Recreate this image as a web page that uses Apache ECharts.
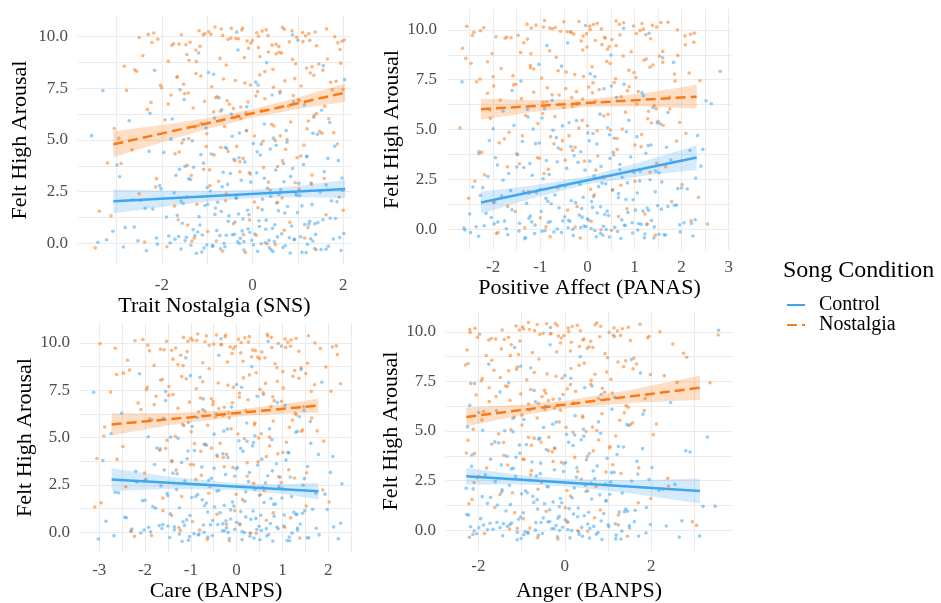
<!DOCTYPE html>
<html><head><meta charset="utf-8">
<script src="https://cdn.jsdelivr.net/npm/echarts@6/dist/echarts.min.js"></script>
<style>html,body{margin:0;padding:0;background:#fff}#c{width:941px;height:603px}</style>
</head><body><div id="c"></div>
<script>
// ---------- DATA ----------
const yTitle = 'Felt High Arousal';
const xTitles = ['Trait Nostalgia (SNS)', 'Positive Affect (PANAS)', 'Care (BANPS)', 'Anger (BANPS)'];
const groups = ['Control', 'Nostalgia'];
const legendTitle = 'Song Condition';

// Felt high arousal (jittered), same participants in every panel
const ctrlY = [-0.42,-0.31,-0.18,-0.05,0.07,0.21,0.33,0.45,-0.47,-0.26,-0.12,0.02,0.15,0.28,0.39,-0.36,-0.21,-0.08,0.11,0.24,0.41,-0.44,-0.15,0.05,0.18,0.36,-0.29,-0.02,0.13,0.31,0.47,-0.39,-0.1,0.09,0.26,-0.33,-0.2,0.0,0.2,0.43,
0.55,0.68,0.79,0.91,1.03,1.14,1.27,1.38,1.49,0.62,0.84,0.97,1.09,1.21,1.33,0.58,0.73,0.88,1.06,1.18,1.42,0.95,
1.54,1.66,1.78,1.89,2.01,2.13,2.25,2.37,2.48,1.6,1.83,1.95,2.08,2.2,2.42,1.71,2.04,2.31,
2.53,2.67,2.79,2.92,3.05,3.16,3.29,3.41,2.6,2.85,2.98,3.12,3.35,3.47,2.74,3.22,
3.55,3.68,3.81,3.94,4.07,4.19,4.32,4.45,3.62,3.88,4.11,4.27,4.4,
4.56,4.7,4.83,4.96,5.09,5.21,5.34,5.46,4.64,5.02,5.28,
5.58,5.77,5.93,6.1,6.26,6.44,6.02,6.61,6.85,7.04,7.27,7.43,7.66,7.92,8.18,8.37,8.74,9.21,9.83,10.22,
-0.4,-0.28,-0.14,-0.01,0.12,0.27,0.38,-0.45,-0.23,-0.07,0.08,0.22,0.35,0.46,-0.35,-0.17,0.03,0.17,0.32,-0.48,-0.3,-0.11,0.14,0.29,0.44,-0.25,-0.04,0.19,0.4,
0.52,0.66,0.81,0.93,1.07,1.2,1.35,1.47,0.6,0.76,0.9,1.12,1.29,0.7,1.0,1.4,
1.57,1.69,1.81,1.93,2.06,2.18,2.32,2.45,1.63,1.87,2.11,2.27,1.99,
2.56,2.7,2.83,2.96,3.09,3.24,3.38,2.64,2.9,3.15,3.44,
3.58,3.73,3.86,4.0,4.14,4.29,4.43,3.79,4.22,
4.59,4.74,4.89,5.04,5.18,5.33,5.45,4.8,
5.63,5.85,6.06,6.29,6.47,6.7,6.96,7.18,7.39,7.8,8.27,8.6,9.35,10.08];
const nostY = [9.52,9.61,9.7,9.79,9.88,9.97,10.06,10.15,10.24,10.33,10.42,9.56,9.66,9.75,9.84,9.93,10.02,10.11,10.2,10.29,10.38,10.47,9.59,9.73,9.9,10.04,10.18,10.36,9.64,9.81,10.09,10.27,
8.54,8.63,8.72,8.81,8.9,8.99,9.08,9.17,9.26,9.35,9.44,8.68,8.95,9.21,
7.53,7.61,7.7,7.79,7.88,7.97,8.06,8.15,8.24,8.33,8.42,7.58,7.84,8.1,8.38,7.66,
6.55,6.64,6.73,6.82,6.91,7.0,7.09,7.18,7.27,7.36,7.45,6.6,6.87,7.13,7.4,
5.54,5.65,5.76,5.87,5.98,6.09,6.2,6.31,6.42,5.7,6.03,6.36,
4.53,4.64,4.75,4.86,4.97,5.08,5.19,5.3,5.41,4.69,5.02,5.35,
3.56,3.67,3.78,3.89,4.0,4.11,4.22,4.33,4.44,3.95,
2.58,2.72,2.86,3.0,3.14,3.28,3.42,2.93,
1.55,1.72,1.89,2.06,2.23,2.4,1.98,
0.57,0.76,0.95,1.14,1.33,1.02,
-0.45,-0.31,-0.17,-0.03,0.11,0.25,0.39,0.06,
9.54,9.63,9.72,9.82,9.91,10.0,10.09,10.19,10.28,10.37,10.45,9.58,9.69,9.78,9.87,9.96,10.05,10.14,10.23,10.32,10.41,9.76,10.12,
8.57,8.69,8.8,8.92,9.03,9.14,9.25,9.38,9.47,8.86,
7.55,7.65,7.76,7.86,7.95,8.04,8.13,8.22,8.31,8.4,8.48,
6.53,6.63,6.74,6.84,6.95,7.05,7.15,7.24,7.34,7.43,6.9,
5.56,5.68,5.8,5.92,6.04,6.16,6.28,6.39,6.48,
4.55,4.68,4.81,4.94,5.07,5.2,5.33,5.46,
3.58,3.72,3.86,4.0,4.14,4.28,4.42,
2.62,2.79,2.96,3.13,3.3,3.46,
1.6,1.8,2.0,2.2,2.4,
0.63,0.88,1.13,1.38,
-0.38,-0.22,-0.06,0.1,0.26,0.42];

// Panel 1: Trait Nostalgia (SNS)
const p1CtrlX = [-1.12,0.41,-2.85,1.21,-0.33,1.78,-1.63,0.05,0.83,-0.71,
0.72,-1.82,-0.02,1.92,-0.58,-2.34,0.37,-1.01,1.33,-0.27,
-0.44,1.09,-0.88,-3.41,0.92,-1.27,1.62,0.19,-1.49,0.55,
2.01,0.11,-1.36,0.48,-2.12,-0.19,0.67,-0.63,-1.71,1.39,
-1.21,0.29,-2.61,1.15,-0.39,1.55,-1.9,-0.08,0.99,-0.79,
0.86,-1.55,0.14,1.71,-0.52,-3.08,0.44,-1.16,1.26,-0.21,
-0.31,1.37,-0.69,-2.2,0.77,-0.99,1.86,0.22,-1.44,0.58,
1.49,-0.11,-1.05,0.53,-2.47,-0.36,0.95,-0.82,-1.58,1.04,
-0.93,0.33,-2.05,1.29,-0.25,1.97,-1.69,0.09,0.62,-0.55,
0.69,-1.41,-0.05,1.58,-0.67,-2.93,0.51,-1.3,1.12,-0.17,
-0.41,1.19,-0.91,-2.28,0.88,-1.08,1.66,0.17,-1.96,0.39,
1.81,0.02,-1.33,0.46,-3.55,-0.29,0.74,-0.6,-1.52,1.43,
-1.03,0.26,-2.72,1.35,-0.47,1.52,-1.77,-0.13,0.9,-0.74,
0.6,-1.6,0.12,2.03,-0.86,-2.16,0.31,-1.19,1.0,-0.35,
0.45,-1.58,1.67,-0.29,-2.53,0.81,-0.72,1.18,-1.07,0.02,
-0.19,1.28,-1.85,0.64,1.95,-0.61,0.28,-3.22,1.06,-1.24,
1.51,-0.88,0.36,-1.46,-0.4,1.37,-2.1,0.92,-1.11,-0.06,
-1.31,0.15,1.24,-0.54,1.83,-1.66,0.71,-0.23,-2.81,0.49,
0.3,-1.18,-0.1,1.44,-0.83,0.57,-2.37,1.09,-1.53,1.74,
-0.36,0.97,-1.73,0.21,1.31,-2.64,0.4,-0.77,1.99,-1.0,
1.62,-0.04,-1.37,0.84,-0.49,-2.02,1.02,0.26,-0.65,-1.61,
-1.49,0.68,1.89,-0.3,-1.14,0.1,-2.99,1.2,-0.57,0.52,
0.76,-1.8,-0.45,1.33,-0.14,0.19,-1.27,1.7,-0.84,-2.26,
-0.68,1.14,-1.51,0.43,-3.3,0.07,-0.97,1.56,-0.32,0.88];
const p1NostX = [0.58,-1.47,1.88,-0.12,-2.09,0.97,-0.66,1.24,-0.97,0.3,
-0.22,1.41,-1.74,0.81,2.02,-0.48,0.13,-2.3,1.1,-1.18,
1.63,-0.83,0.43,-1.38,-0.31,1.17,-2.18,0.7,-1.62,0.0,
-1.09,0.21,1.31,-0.58,1.94,-1.86,0.88,-0.18,-2.42,0.52,
0.35,-1.25,-0.09,1.46,-0.72,0.64,-2.01,1.07,-1.52,1.72,
-0.38,0.93,-1.66,0.16,1.27,-2.56,0.45,-0.9,1.84,-1.14,
1.55,-0.05,-1.31,0.79,-0.51,-2.24,1.03,0.27,-0.78,-1.8,
-1.42,0.61,1.99,-0.26,-1.06,0.07,-2.78,1.2,-0.62,0.42,
0.84,-1.93,-0.44,1.36,-0.15,0.19,-1.2,1.68,-0.86,-2.66,
-0.7,1.13,-1.56,0.5,-2.95,0.04,-1.01,1.48,-0.35,0.76,
1.79,-0.95,0.24,-1.44,-3.2,0.66,-0.21,1.06,-1.71,-0.54,
-0.28,0.39,-2.14,1.3,-0.75,1.58,-1.35,-0.07,0.94,-3.38,
0.12,-1.23,-0.6,1.91,-2.5,0.55,-0.99,1.22,-0.42,-1.64,
-3.12,0.82,-0.16,1.4,-1.89,0.32,-0.8,-1.29,0.08,-2.38,
-1.16,0.52,-2.22,1.26,-0.37,1.81,-1.57,0.09,0.87,-0.69,
0.66,-1.78,-0.04,1.97,-0.54,-2.5,0.34,-1.05,1.38,-0.24,
-0.47,1.11,-0.92,-2.83,0.95,-1.24,1.65,0.16,-1.45,0.59,
1.93,0.13,-1.4,0.46,-2.03,-0.17,0.71,-0.64,-1.67,1.35,
-1.25,0.27,-2.6,1.19,-0.42,1.59,-1.86,-0.1,1.01,-0.81,
0.9,-1.5,0.11,1.76,-0.56,-3.05,0.47,-1.13,1.23,-0.26,
-0.33,1.41,-0.71,-2.32,0.73,-1.02,1.87,0.23,-1.41,0.61,
1.53,-0.13,-1.08,0.55,-2.9,-0.39,0.98,-0.85,-1.62,1.03,
-0.94,0.35,-2.12,1.31,-0.28,2.0,-1.72,0.04,0.65,-0.58,
0.7,-1.43,-0.07,1.62,-0.66,-3.47,0.5,-1.34,1.15,-0.2];
const p1CtrlFit = [[-3.07,2.03],[2.04,2.63]];
const p1NostFit = [[-3.07,4.79],[2.04,7.29]];
const p1BandX = [-3.07,-2,-1,0,1,2.04];
const p1CtrlLo = [1.45,1.76,2.01,2.19,2.23,2.19];
const p1CtrlHi = [2.61,2.56,2.53,2.59,2.79,3.07];
const p1NostLo = [4.16,4.89,5.53,6.09,6.50,6.85];
const p1NostHi = [5.42,5.73,6.07,6.49,7.06,7.73];

// Panel 2: Positive Affect (PANAS)
const p2CtrlX = [-1.31,0.33,-2.48,1.07,-0.41,1.96,-0.83,0.02,0.71,1.52,
0.64,-1.72,-0.07,2.21,-0.37,-2.31,0.28,-0.9,1.42,1.14,
-0.52,1.21,-0.71,-2.62,0.79,-1.18,1.63,0.4,-0.03,2.05,
2.29,0.19,-1.45,0.58,-1.98,-0.3,0.96,-0.64,-1.11,1.36,
-1.24,0.45,-2.15,1.18,-0.12,1.71,-0.77,0.09,0.82,-0.48,
0.86,-1.6,0.11,1.89,-0.25,-2.04,0.37,-0.98,1.27,1.49,
-0.34,1.02,-0.88,-1.82,0.66,-1.36,2.12,0.24,-0.16,1.58,
1.33,-0.09,-1.08,0.53,-2.22,-0.58,1.11,-0.69,1.92,0.31,
-0.94,0.14,-1.67,1.45,-0.44,2.41,-1.22,0.05,0.74,0.99,
0.69,-1.5,-0.2,1.77,-0.81,-1.91,0.48,-0.28,1.24,2.18,
-0.62,1.29,-1.02,-2.08,0.92,-0.14,1.68,0.2,-1.38,0.57,
2.34,0.01,-0.73,0.43,-1.56,-0.39,0.88,1.05,-1.15,1.55,
-0.96,0.27,-1.79,1.39,-0.22,2.52,-1.27,0.62,1.16,0.35,
0.78,-1.41,0.16,2.82,-0.55,1.83,0.5,-0.86,1.31,-0.04,
0.47,-1.69,1.97,-0.31,-2.36,1.09,-0.79,1.41,-1.12,0.16,
-0.14,1.26,-1.9,0.73,2.24,-0.55,0.08,-2.19,0.95,-1.33,
1.66,-0.96,0.34,-1.44,-0.4,1.22,-2.6,0.8,-1.76,0.0,
-1.21,0.21,1.3,-0.6,1.85,-1.97,0.97,-0.11,-2.5,0.42,
0.28,-1.29,-0.17,1.57,-0.84,0.66,-2.27,1.06,-1.63,2.0,
-0.47,0.85,-1.79,0.13,1.44,-2.43,0.39,-1.0,2.3,-1.17,
1.52,-0.05,-1.35,0.69,-0.64,-2.11,1.12,0.29,-0.87,-1.95,
-1.48,0.55,2.45,-0.35,-1.1,0.04,-2.3,1.35,-0.66,0.47,
0.83,-2.0,-0.53,1.48,-0.23,0.12,-1.26,1.71,-0.91,2.63,
-0.75,1.19,-1.6,0.51,-2.66,0.06,-1.03,1.6,-0.42,0.77];
const p2NostX = [0.52,-1.62,2.07,-0.29,-2.41,1.12,-0.74,1.47,-1.09,0.21,
-0.18,1.34,-1.94,0.69,2.27,-0.57,0.06,-2.2,0.98,-1.28,
1.71,-0.91,0.38,-1.47,-0.36,1.19,-2.56,0.77,-1.71,-0.02,
-1.19,0.13,1.25,-0.66,1.92,-2.02,0.93,-0.1,-2.65,0.46,
0.31,-1.35,-0.13,1.53,-0.8,0.61,-2.28,1.03,-1.58,1.85,
-0.45,0.88,-1.83,0.1,1.39,-2.47,0.41,-0.97,2.16,-1.21,
1.6,-0.08,-1.4,0.72,-0.6,-2.12,1.08,0.25,-0.85,-1.99,
-1.52,0.57,2.39,-0.33,-1.14,0.03,-2.35,1.28,-0.69,0.44,
0.81,-2.07,-0.5,1.42,-0.2,0.17,-1.31,1.75,-0.94,-1.76,
-0.78,1.15,-1.66,0.49,-2.7,0.0,-1.05,1.5,-0.39,0.74,
1.96,-1.02,0.22,-1.5,-2.3,0.63,-0.26,1.01,-1.87,-0.53,
-0.31,0.35,-2.18,1.33,-0.83,1.66,-1.44,-0.06,0.96,-2.52,
0.15,-1.25,-0.63,2.01,-2.39,0.54,-1.0,1.22,-0.42,-1.69,
-2.0,0.84,-0.15,1.44,-1.9,0.29,-0.88,2.55,0.08,-1.33,
-1.27,0.36,-2.44,1.04,-0.43,1.91,-0.8,0.05,0.68,1.56,
0.61,-1.75,-0.09,2.19,-0.34,-2.27,0.3,-0.93,1.38,1.16,
-0.5,1.24,-0.68,-2.58,0.76,-1.2,1.6,0.43,-0.01,2.08,
2.26,0.17,-1.42,0.6,-2.0,-0.27,0.99,-0.62,-1.14,1.33,
-1.21,0.48,-2.12,1.2,-0.1,1.74,-0.75,0.11,0.85,-0.46,
0.89,-1.57,0.12,1.86,-0.23,-2.06,0.35,-0.95,1.3,1.46,
-0.32,1.05,-0.86,-1.85,0.63,-1.38,2.09,0.21,-0.18,1.61,
1.36,-0.11,-1.06,0.56,-2.24,-0.56,1.14,-0.71,1.89,0.33,
-0.92,0.18,-1.7,1.47,-0.47,2.36,-1.24,0.07,0.71,1.01,
0.66,-1.53,-0.22,1.79,-0.79,-1.93,0.51,-0.26,1.27,2.2];
const p2CtrlFit = [[-2.26,1.33],[2.32,3.59]];
const p2NostFit = [[-2.26,6.02],[2.32,6.65]];
const p2BandX = [-2.26,-1.2,0,1.2,2.32];
const p2CtrlLo = [0.77,1.52,2.25,2.68,2.97];
const p2CtrlHi = [1.89,2.18,2.65,3.40,4.21];
const p2NostLo = [5.49,5.86,6.14,6.16,6.05];
const p2NostHi = [6.55,6.48,6.52,6.82,7.25];

// Panel 3: Care (BANPS)
const p3CtrlX = [-1.05,0.38,-2.68,1.21,-0.31,1.74,-1.5,0.07,0.79,-0.63,
0.7,-1.88,-0.04,2.12,-0.57,-3.02,0.29,-0.93,1.33,-0.22,
-0.41,1.1,-0.84,-2.31,0.91,-1.14,1.58,0.17,-1.36,0.49,
2.27,0.12,-1.25,0.54,-1.92,-0.16,0.66,-0.71,-1.63,1.39,
-1.17,0.31,-2.44,1.04,-0.36,1.49,-1.77,-0.06,0.85,-0.52,
0.82,-1.45,0.09,1.66,-0.48,-2.85,0.42,-1.02,1.25,-0.13,
-0.27,1.31,-0.66,-2.06,0.75,-0.89,1.93,0.2,-1.31,0.57,
1.45,-0.09,-0.98,0.5,-2.58,-0.39,0.93,-0.75,-1.52,1.0,
-0.86,0.26,-1.98,1.17,-0.24,2.05,-1.58,0.02,0.63,-0.55,
0.68,-1.39,-0.01,1.55,-0.61,-2.2,0.46,-1.2,1.08,-0.19,
-0.43,1.14,-0.92,-1.74,0.87,-1.08,1.79,0.14,-1.67,0.35,
1.62,0.05,-1.28,0.4,-2.74,-0.28,0.72,-0.68,-1.44,1.29,
-0.97,0.22,-1.85,1.37,-0.45,1.47,-1.6,-0.11,0.89,-0.73,
0.59,-1.55,0.11,1.86,-0.8,-2.12,0.33,-1.11,0.98,-0.34,
0.51,-1.46,1.8,-0.18,-2.02,0.88,-0.72,1.16,-1.03,0.3,
-0.26,1.33,-1.69,0.74,2.22,-0.53,0.12,-2.29,1.03,-1.19,
1.54,-0.82,0.44,-1.36,-0.3,1.15,-2.09,0.65,-1.61,0.0,
-1.09,0.2,1.3,-0.63,1.98,-1.83,0.81,-0.23,-2.41,0.53,
0.36,-1.25,-0.13,1.44,-0.7,0.6,-2.0,0.99,-1.5,1.73,
-0.43,0.92,-1.65,0.18,1.2,-2.65,0.4,-0.85,2.3,-1.13,
1.48,-0.04,-1.3,0.78,-0.49,-2.18,0.95,0.28,-0.76,-1.79,
-1.42,0.55,2.1,-0.3,-1.06,0.09,-2.92,1.12,-0.66,0.37,
0.77,-1.93,-0.49,1.33,-0.2,0.23,-1.15,1.61,-0.86,-2.51,
-0.74,1.06,-1.55,0.45,-3.12,0.0,-1.01,1.41,-0.39,0.69];
const p3NostX = [0.55,-1.42,1.83,-0.14,-1.94,0.91,-0.69,1.19,-1.0,0.28,
-0.24,1.36,-1.66,0.77,2.18,-0.5,0.1,-2.22,1.06,-1.16,
1.57,-0.85,0.41,-1.33,-0.33,1.12,-2.05,0.68,-1.58,-0.03,
-1.06,0.18,1.27,-0.6,1.95,-1.8,0.84,-0.2,-2.38,0.5,
0.33,-1.22,-0.1,1.41,-0.74,0.62,-1.97,1.02,-1.48,1.7,
-0.4,0.89,-1.62,0.15,1.23,-2.62,0.43,-0.88,2.27,-1.1,
1.51,-0.07,-1.28,0.75,-0.52,-2.15,0.98,0.25,-0.79,-1.76,
-1.39,0.58,2.06,-0.27,-1.03,0.06,-2.75,1.15,-0.63,0.4,
0.8,-1.9,-0.46,1.3,-0.17,0.2,-1.18,1.64,-0.83,-2.48,
-0.71,1.09,-1.52,0.48,-2.9,0.03,-0.99,1.44,-0.36,0.72,
1.76,-0.94,0.23,-1.41,-3.05,0.65,-0.22,1.01,-1.68,-0.55,
-0.29,0.37,-2.01,1.26,-0.77,1.53,-1.32,-0.08,0.92,-2.96,
0.13,-1.2,-0.61,1.88,-2.42,0.52,-0.96,1.18,-0.43,-1.61,
-3.1,0.8,-0.16,1.38,-1.86,0.3,-0.81,-1.26,0.07,-2.3,
-1.08,0.35,-2.65,1.18,-0.34,1.71,-1.53,0.04,0.76,-0.66,
0.67,-1.9,-0.07,2.09,-0.6,-2.98,0.26,-0.96,1.3,-0.25,
-0.44,1.07,-0.87,-2.34,0.88,-1.17,1.55,0.14,-1.39,0.46,
2.2,0.09,-1.28,0.51,-1.95,-0.19,0.63,-0.74,-1.66,1.36,
-1.2,0.28,-2.47,1.01,-0.39,1.46,-1.8,-0.09,0.82,-0.55,
0.79,-1.48,0.06,1.63,-0.51,-2.88,0.39,-1.05,1.22,-0.16,
-0.3,1.28,-0.69,-2.09,0.72,-0.92,1.9,0.17,-1.34,0.54,
1.42,-0.12,-1.01,0.47,-2.61,-0.42,0.9,-0.78,-1.55,0.97,
-0.89,0.23,-2.01,1.14,-0.27,2.02,-1.61,-0.01,0.6,-0.58,
0.65,-1.42,-0.04,1.52,-0.64,-2.23,0.43,-1.23,1.05,-0.22];
const p3CtrlFit = [[-2.73,2.78],[1.79,2.17]];
const p3NostFit = [[-2.73,5.69],[1.79,6.69]];
const p3BandX = [-2.73,-1.5,0,1,1.79];
const p3CtrlLo = [2.18,2.28,2.23,2.02,1.73];
const p3CtrlHi = [3.38,2.94,2.59,2.54,2.61];
const p3NostLo = [5.11,5.64,6.11,6.26,6.32];
const p3NostHi = [6.27,6.28,6.47,6.76,7.06];

// Panel 4: Anger (BANPS)
const p4CtrlX = [-1.01,0.41,-2.04,1.32,-0.3,2.35,-1.42,0.05,0.86,-0.61,
0.77,-1.79,-0.05,1.98,-0.55,-2.21,0.33,-0.92,1.5,-0.2,
-0.39,1.18,-0.85,-1.66,1.02,-1.23,3.12,0.16,-1.5,0.53,
2.71,0.12,-1.1,0.58,-1.88,-0.17,0.73,-0.68,-1.33,1.61,
-1.07,0.3,-2.27,1.26,-0.35,1.89,-1.56,-0.07,0.95,-0.5,
0.9,-1.36,0.1,3.48,-0.47,-1.95,0.45,-0.96,1.41,-0.13,
-0.27,1.45,-0.64,-1.72,0.81,-0.87,2.18,0.22,-1.28,0.61,
1.55,-0.1,-1.0,0.49,-2.12,-0.41,1.06,-0.74,-1.45,2.55,
-0.82,0.27,-1.84,1.14,-0.24,2.02,-1.47,0.02,0.69,-0.57,
0.66,-1.19,-0.02,1.67,-0.66,-2.16,0.5,-1.13,1.21,2.9,
-0.43,1.36,-0.89,-1.62,0.98,-1.04,1.8,0.19,-1.53,0.38,
3.3,0.04,-1.2,0.43,-2.25,-0.28,0.78,-0.58,-1.39,1.48,
-0.95,0.24,-1.99,1.09,-0.44,2.45,-1.58,-0.12,0.84,-0.71,
0.63,-1.3,0.14,1.75,-0.79,-1.76,0.36,-1.16,1.12,-0.33,
0.57,-1.44,1.88,-0.12,-1.99,1.0,-0.67,1.3,-0.95,0.32,
-0.25,1.49,-1.73,0.84,2.65,-0.52,0.07,-2.18,1.17,-1.1,
1.71,-0.86,0.39,-1.27,-0.35,1.19,-2.1,0.67,-1.57,0.01,
-1.02,0.2,1.38,-0.63,3.2,-1.79,0.96,-0.16,-2.23,0.55,
0.31,-1.26,-0.13,1.63,-0.72,0.62,-1.91,1.04,-1.46,2.27,
-0.38,0.94,-1.61,0.17,1.33,-2.28,0.48,-0.91,1.95,-1.14,
1.69,-0.03,-1.24,0.75,-0.56,-2.03,1.08,0.28,-0.76,-1.72,
-1.34,0.57,2.8,-0.24,-1.05,0.09,-2.15,1.24,-0.61,0.44,
0.83,-1.9,-0.49,1.44,-0.2,0.23,-1.2,1.81,-0.81,-2.2,
-0.68,1.15,-1.5,0.46,-2.09,0.0,-1.02,1.54,-0.34,3.56];
const p4NostX = [0.6,-1.4,1.92,-0.15,-1.97,1.03,-0.7,1.33,-0.98,0.29,
-0.22,1.52,-1.7,0.81,3.55,-0.5,0.09,-2.2,1.14,-1.13,
1.74,-0.84,0.42,-1.3,-0.32,1.22,-2.08,0.7,-1.6,-0.02,
-1.05,0.17,1.41,-0.6,2.82,-1.82,0.93,-0.19,-2.26,0.52,
0.34,-1.24,-0.1,1.6,-0.75,0.65,-1.93,1.07,-1.49,2.3,
-0.41,0.97,-1.64,0.14,1.36,-2.3,0.45,-0.88,1.98,-1.12,
1.66,-0.06,-1.27,0.78,-0.53,-2.05,1.1,0.25,-0.79,-1.75,
-1.37,0.6,2.6,-0.27,-1.02,0.06,-2.18,1.27,-0.64,0.41,
0.86,-1.88,-0.46,1.47,-0.17,0.2,-1.17,1.84,-0.84,-2.24,
-0.71,1.18,-1.53,0.49,-2.12,0.03,-0.99,1.57,-0.37,0.74,
2.12,-0.94,0.23,-1.41,-2.28,0.66,-0.23,1.05,-1.69,-0.55,
-0.29,0.38,-2.0,1.3,-0.77,1.71,-1.32,-0.08,0.95,-2.15,
0.13,-1.21,-0.62,2.4,-2.1,0.53,-0.96,1.24,-0.43,-1.62,
-2.22,0.82,-0.16,1.45,-1.86,0.3,-0.81,3.05,0.07,-1.28,
-1.04,0.44,-2.02,1.29,-0.33,2.2,-1.45,0.08,0.83,-0.64,
0.74,-1.76,-0.08,1.95,-0.58,-2.19,0.36,-0.95,1.47,-0.17,
-0.42,1.15,-0.82,-1.69,0.99,-1.26,2.75,0.13,-1.47,0.56,
2.5,0.15,-1.07,0.61,-1.91,-0.2,0.7,-0.71,-1.3,1.58,
-1.1,0.33,-2.24,1.23,-0.38,1.86,-1.59,-0.04,0.92,-0.47,
0.87,-1.33,0.13,3.36,-0.44,-1.92,0.42,-0.99,1.38,-0.1,
-0.24,1.42,-0.61,-1.75,0.78,-0.84,2.05,0.19,-1.25,0.64,
1.52,-0.13,-0.97,0.52,-2.09,-0.38,1.03,-0.77,-1.42,2.38,
-0.79,0.3,-1.81,1.11,-0.27,1.99,-1.5,0.05,0.72,-0.54,
0.69,-1.16,0.01,1.7,-0.63,-2.13,0.53,-1.1,1.24,2.95];
const p4CtrlFit = [[-2.28,2.72],[3.13,1.97]];
const p4NostFit = [[-2.28,5.71],[3.13,7.18]];
const p4BandX = [-2.28,-1,0,1.5,3.13];
const p4CtrlLo = [2.30,2.30,2.21,1.86,1.34];
const p4CtrlHi = [3.14,2.78,2.59,2.52,2.60];
const p4NostLo = [5.24,5.80,6.13,6.41,6.58];
const p4NostHi = [6.18,6.32,6.53,7.07,7.78];

// ---------- LAYOUT / STYLE ----------
const FONT = 'Liberation Serif, Times New Roman, serif';
const BLUE = '#3FA6F0', ORANGE = '#FA7A17';
const BLUE_BAND = 'rgba(63,166,240,0.22)', ORANGE_BAND = 'rgba(250,122,23,0.25)';
const panels = [
  {grid:{left:78, top:15, width:273, height:250}, xMin:-3.85, xMax:2.17, step:1, lab:2, yGap:47, xGap:29, xm:12,
   cx:p1CtrlX, nx:p1NostX, cf:p1CtrlFit, nf:p1NostFit, bx:p1BandX, cl:p1CtrlLo, ch:p1CtrlHi, nl:p1NostLo, nh:p1NostHi},
  {grid:{left:447, top:9, width:285, height:241}, xMin:-2.98, xMax:3.07, step:0.5, lab:1, yGap:44, xGap:27, xm:9,
   cx:p2CtrlX, nx:p2NostX, cf:p2CtrlFit, nf:p2NostFit, bx:p2BandX, cl:p2CtrlLo, ch:p2CtrlHi, nl:p2NostLo, nh:p2NostHi},
  {grid:{left:80, top:323, width:272, height:232}, xMin:-3.42, xMax:2.52, step:0.5, lab:1, yGap:42, xGap:26, xm:10,
   cx:p3CtrlX, nx:p3NostX, cf:p3CtrlFit, nf:p3NostFit, bx:p3BandX, cl:p3CtrlLo, ch:p3CtrlHi, nl:p3NostLo, nh:p3NostHi},
  {grid:{left:446, top:311, width:286, height:240}, xMin:-2.75, xMax:3.87, step:1, lab:2, yGap:43, xGap:29, xm:7,
   cx:p4CtrlX, nx:p4NostX, cf:p4CtrlFit, nf:p4NostFit, bx:p4BandX, cl:p4CtrlLo, ch:p4CtrlHi, nl:p4NostLo, nh:p4NostHi}
];

const isMult = (v, m) => Math.abs(v / m - Math.round(v / m)) < 1e-6;
const grids = [], xAxes = [], yAxes = [], scatters = [], bands = [], fits = [];
const gridLine = {show:true, showMinLine:false, showMaxLine:false, lineStyle:{color:'#ebebeb', width:1}};

function bandSeries(i, bx, lo, hi, fill) {
  return {
    type:'custom', xAxisIndex:i, yAxisIndex:i, silent:true, name:'band',
    data: bx.map((x, k) => [x, lo[k], hi[k]]),
    encode:{x:0, y:[1, 2]},
    renderItem: (params, api) => {
      if (params.dataIndex !== 0) return {type:'group', children:[]};
      const top = bx.map((x, k) => api.coord([x, hi[k]]));
      const bot = bx.map((x, k) => api.coord([x, lo[k]])).reverse();
      return {type:'polygon', shape:{points: top.concat(bot)}, style:{fill: fill}};
    }
  };
}

panels.forEach((p, i) => {
  grids.push(Object.assign({containLabel:false}, p.grid));
  xAxes.push({
    type:'value', gridIndex:i, min:p.xMin, max:p.xMax, minInterval:p.step, maxInterval:p.step,
    axisLine:{show:false}, axisTick:{show:false}, splitLine:gridLine,
    axisLabel:{fontFamily:FONT, fontSize:17, color:'#4d4d4d', margin:p.xm,
      formatter: v => (isMult(v, p.lab) ? String(Math.round(v)) : '')},
    name:xTitles[i], nameLocation:'middle', nameGap:p.xGap,
    nameTextStyle:{fontFamily:FONT, fontSize:22, color:'#000', verticalAlign:'top'}
  });
  yAxes.push({
    type:'value', gridIndex:i, min:-1.05, max:11.05, minInterval:1.25, maxInterval:1.25,
    axisLine:{show:false}, axisTick:{show:false}, splitLine:gridLine,
    axisLabel:{fontFamily:FONT, fontSize:17, color:'#4d4d4d', margin:10,
      formatter: v => (isMult(v, 2.5) && v > -0.01 && v < 10.01 ? v.toFixed(1) : '')},
    name:yTitle, nameLocation:'middle', nameGap:p.yGap,
    nameTextStyle:{fontFamily:FONT, fontSize:22, color:'#000'}
  });
  scatters.push({type:'scatter', name:'Control points', xAxisIndex:i, yAxisIndex:i, silent:true,
    symbolSize:3.6, itemStyle:{color:BLUE, opacity:0.55}, data:p.cx.map((x, k) => [x, ctrlY[k]])});
  scatters.push({type:'scatter', name:'Nostalgia points', xAxisIndex:i, yAxisIndex:i, silent:true,
    symbolSize:3.6, itemStyle:{color:ORANGE, opacity:0.55}, data:p.nx.map((x, k) => [x, nostY[k]])});
  bands.push(bandSeries(i, p.bx, p.cl, p.ch, BLUE_BAND));
  bands.push(bandSeries(i, p.bx, p.nl, p.nh, ORANGE_BAND));
  fits.push({type:'line', name:groups[0], xAxisIndex:i, yAxisIndex:i, symbol:'none', silent:true,
    lineStyle:{color:BLUE, width:2.5}, itemStyle:{color:BLUE}, data:p.cf});
  fits.push({type:'line', name:groups[1], xAxisIndex:i, yAxisIndex:i, symbol:'none', silent:true,
    lineStyle:{color:ORANGE, width:2.5, type:[10,5]}, itemStyle:{color:ORANGE}, data:p.nf});
});

const chart = echarts.init(document.getElementById('c'), null, {renderer:'canvas'});
chart.setOption({
  backgroundColor:'#fff',
  animation:false,
  title:{text:legendTitle, left:778, top:254, textStyle:{fontFamily:FONT, fontSize:24, fontWeight:'normal', color:'#000'}},
  legend:{data:groups, orient:'vertical', left:781, top:290, itemWidth:18, itemHeight:10, itemGap:0,
    itemStyle:{opacity:0},
    textStyle:{fontFamily:FONT, fontSize:20, color:'#000', padding:[0,0,0,9]}},
  grid:grids, xAxis:xAxes, yAxis:yAxes,
  series:[].concat(scatters, bands, fits)
});
</script></body></html>
